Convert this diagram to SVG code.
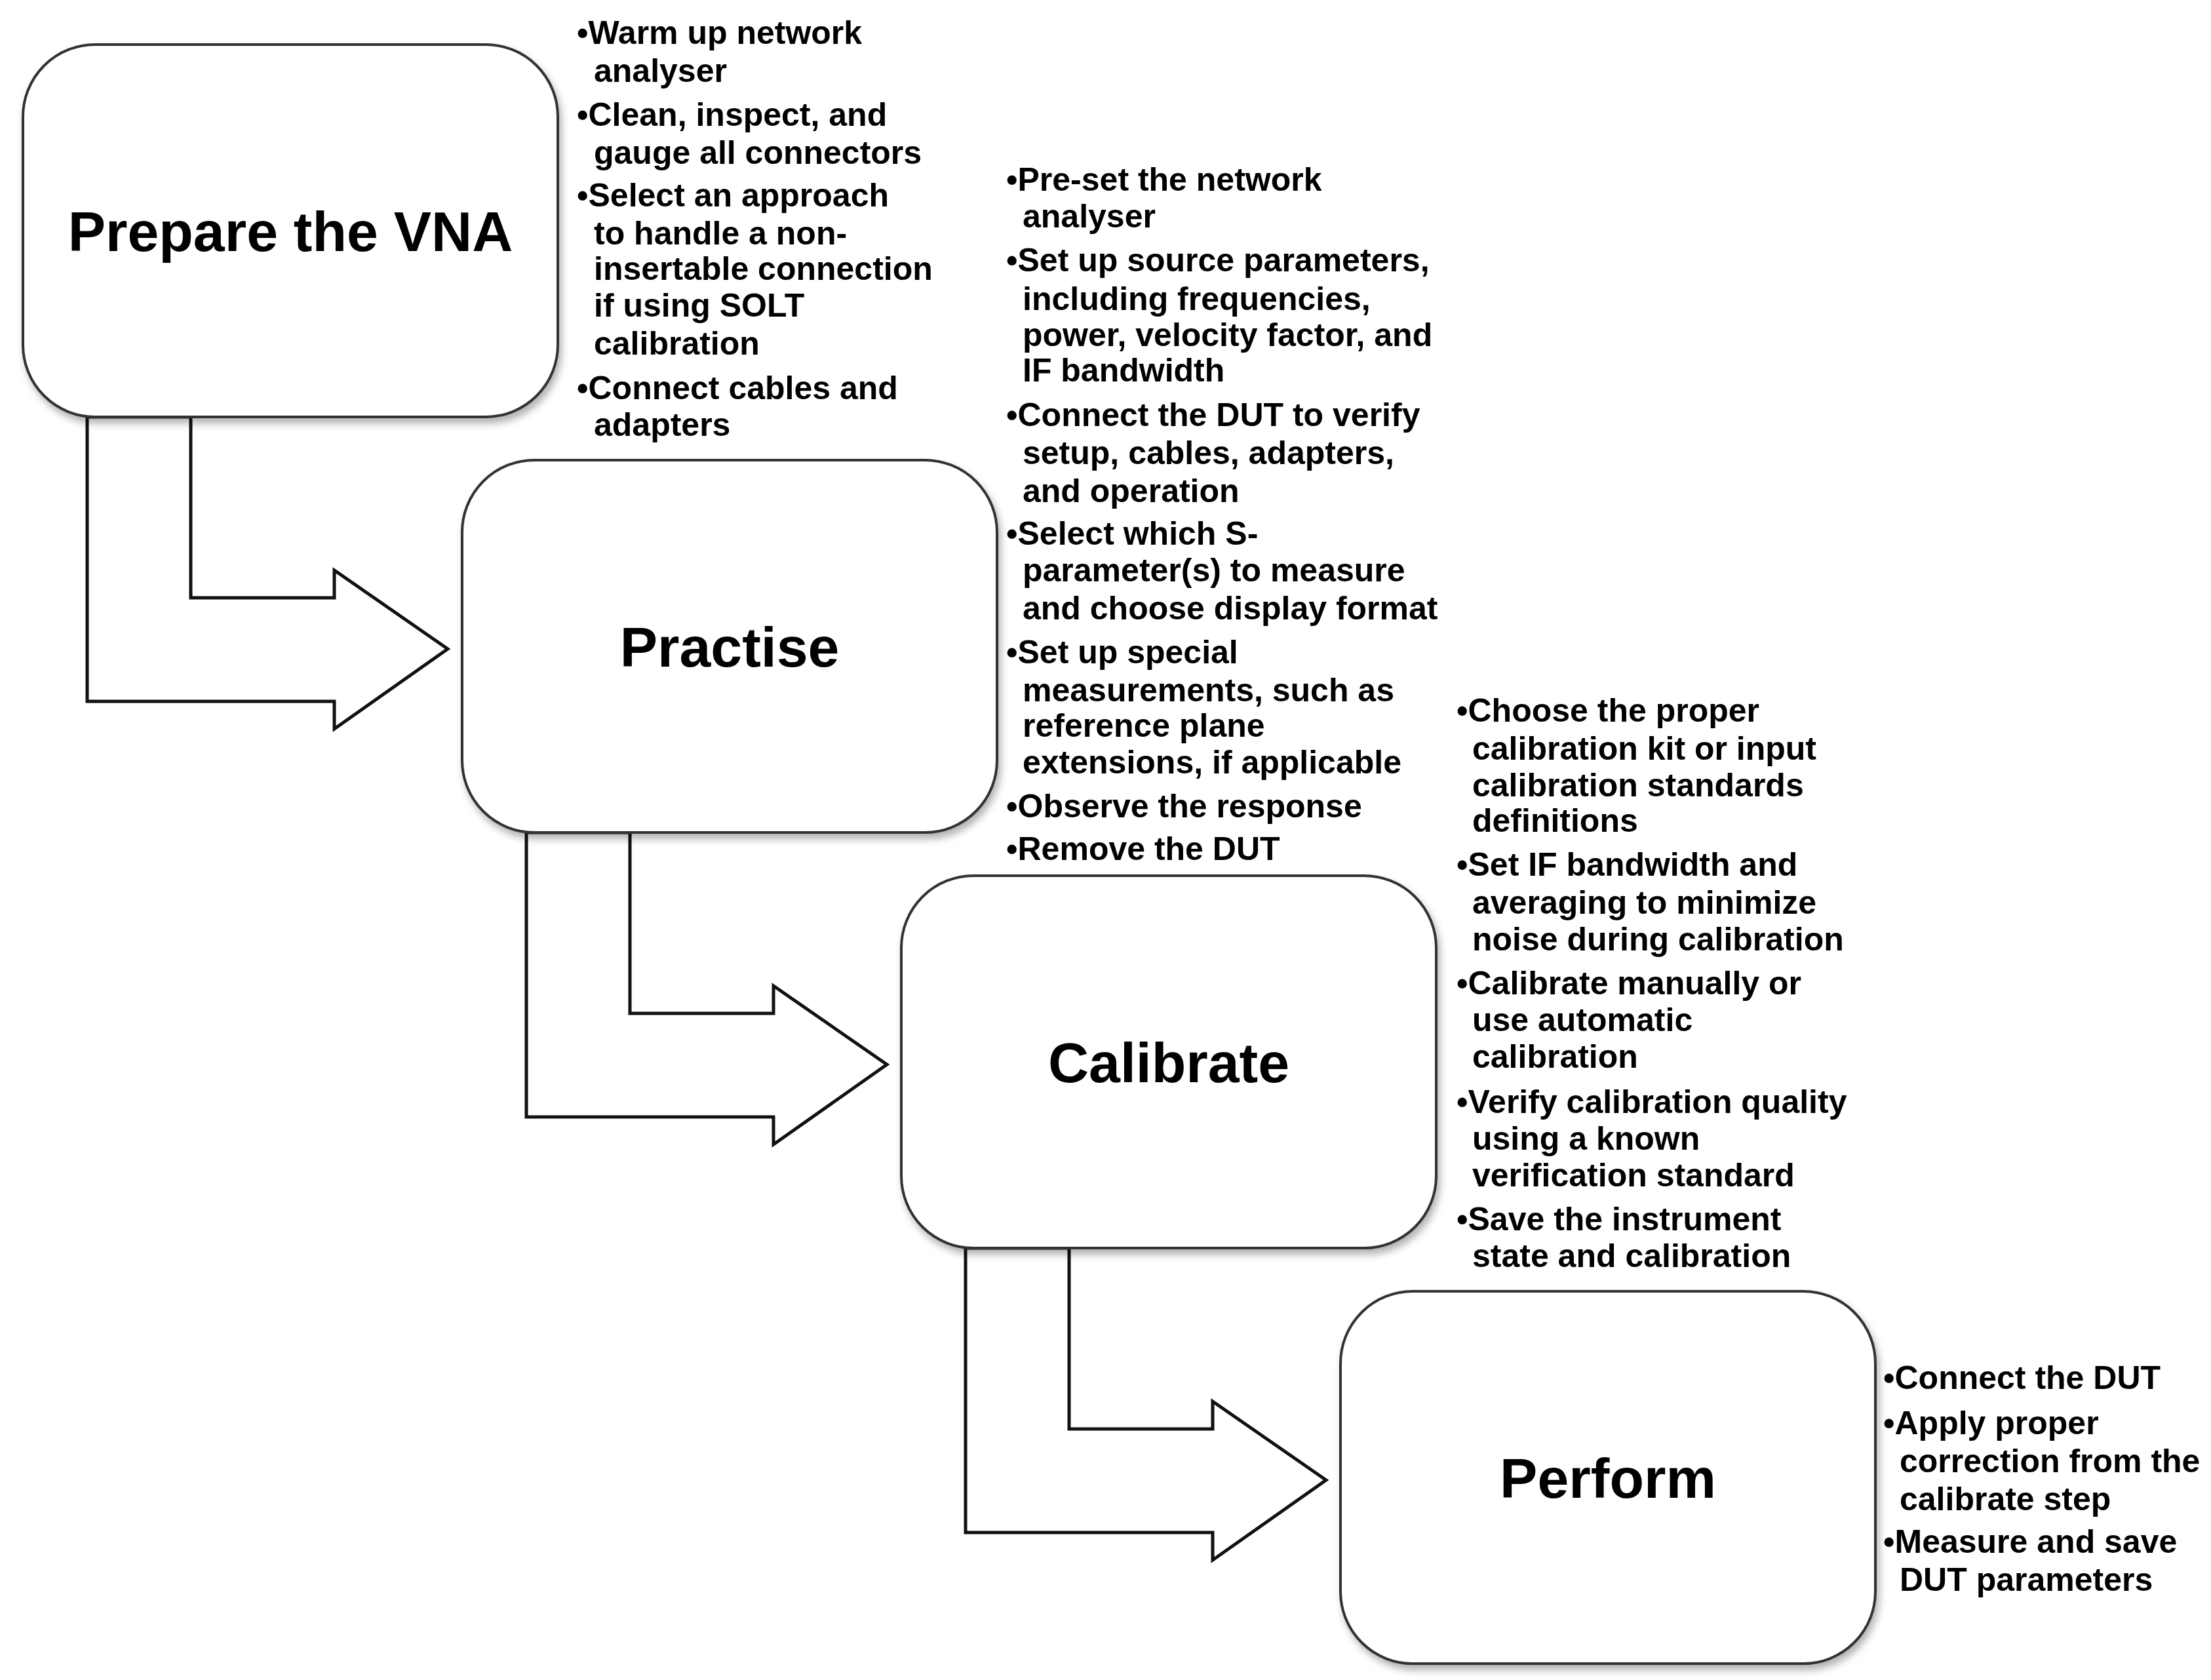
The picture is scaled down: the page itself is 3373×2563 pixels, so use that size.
<svg xmlns="http://www.w3.org/2000/svg" width="3373" height="2563" viewBox="0 0 3373 2563">
<style>
.box{fill:#fff;stroke:#333;stroke-width:4}
.arr{fill:#fff;stroke:#111;stroke-width:5;stroke-linejoin:miter}
.t{font-family:"Liberation Sans",Arial,sans-serif;font-weight:bold;font-size:86px;fill:#000;text-anchor:middle}
.b{font-family:"Liberation Sans",Arial,sans-serif;font-weight:bold;font-size:50px;fill:#000}
</style>
<defs>
<filter id="sh" x="-10%" y="-10%" width="130%" height="130%"><feDropShadow dx="4" dy="8" stdDeviation="6" flood-color="#000" flood-opacity="0.3"/></filter>
<polygon id="arrow" class="arr" points="133,636 291,636 291,912 510,912 510,870 683,990 510,1112 510,1070 133,1070"/>
</defs>
<g id="connectors">
<use href="#arrow"/>
<use href="#arrow" transform="translate(670,634)"/>
<use href="#arrow" transform="translate(1340,1268)"/>
</g>
<g id="prepare"><rect class="box" filter="url(#sh)" x="35" y="68" width="816" height="568" rx="110"/><text class="t" x="443" y="383">Prepare the VNA</text></g>
<g id="practise"><rect class="box" filter="url(#sh)" x="705" y="702" width="816" height="568" rx="110"/><text class="t" x="1113" y="1017">Practise</text></g>
<g id="calibrate"><rect class="box" filter="url(#sh)" x="1375" y="1336" width="816" height="568" rx="110"/><text class="t" x="1783" y="1651">Calibrate</text></g>
<g id="perform"><rect class="box" filter="url(#sh)" x="2045" y="1970" width="816" height="568" rx="110"/><text class="t" x="2453" y="2285">Perform</text></g>
<g id="notes1" class="b">
<text x="880" y="67">•Warm up network</text>
<text x="906" y="125">analyser</text>
<text x="880" y="192">•Clean, inspect, and</text>
<text x="906" y="250">gauge all connectors</text>
<text x="880" y="315">•Select an approach</text>
<text x="906" y="373">to handle a non-</text>
<text x="906" y="427">insertable connection</text>
<text x="906" y="483">if using SOLT</text>
<text x="906" y="541">calibration</text>
<text x="880" y="609">•Connect cables and</text>
<text x="906" y="665">adapters</text>
</g>
<g id="notes2" class="b">
<text x="1535" y="291">•Pre-set the network</text>
<text x="1560" y="347">analyser</text>
<text x="1535" y="414">•Set up source parameters,</text>
<text x="1560" y="473">including frequencies,</text>
<text x="1560" y="528">power, velocity factor, and</text>
<text x="1560" y="582">IF bandwidth</text>
<text x="1535" y="650">•Connect the DUT to verify</text>
<text x="1560" y="708">setup, cables, adapters,</text>
<text x="1560" y="766">and operation</text>
<text x="1535" y="831">•Select which S-</text>
<text x="1560" y="887">parameter(s) to measure</text>
<text x="1560" y="945">and choose display format</text>
<text x="1535" y="1012">•Set up special</text>
<text x="1560" y="1070">measurements, such as</text>
<text x="1560" y="1124">reference plane</text>
<text x="1560" y="1180">extensions, if applicable</text>
<text x="1535" y="1247">•Observe the response</text>
<text x="1535" y="1312">•Remove the DUT</text>
</g>
<g id="notes3" class="b">
<text x="2222" y="1101">•Choose the proper</text>
<text x="2246" y="1159">calibration kit or input</text>
<text x="2246" y="1215">calibration standards</text>
<text x="2246" y="1269">definitions</text>
<text x="2222" y="1336">•Set IF bandwidth and</text>
<text x="2246" y="1394">averaging to minimize</text>
<text x="2246" y="1450">noise during calibration</text>
<text x="2222" y="1517">•Calibrate manually or</text>
<text x="2246" y="1573">use automatic</text>
<text x="2246" y="1629">calibration</text>
<text x="2222" y="1698">•Verify calibration quality</text>
<text x="2246" y="1754">using a known</text>
<text x="2246" y="1810">verification standard</text>
<text x="2222" y="1877">•Save the instrument</text>
<text x="2246" y="1933">state and calibration</text>
</g>
<g id="notes4" class="b">
<text x="2873" y="2119">•Connect the DUT</text>
<text x="2873" y="2188">•Apply proper</text>
<text x="2898" y="2246">correction from the</text>
<text x="2898" y="2304">calibrate step</text>
<text x="2873" y="2369">•Measure and save</text>
<text x="2898" y="2427">DUT parameters</text>
</g>
</svg>
